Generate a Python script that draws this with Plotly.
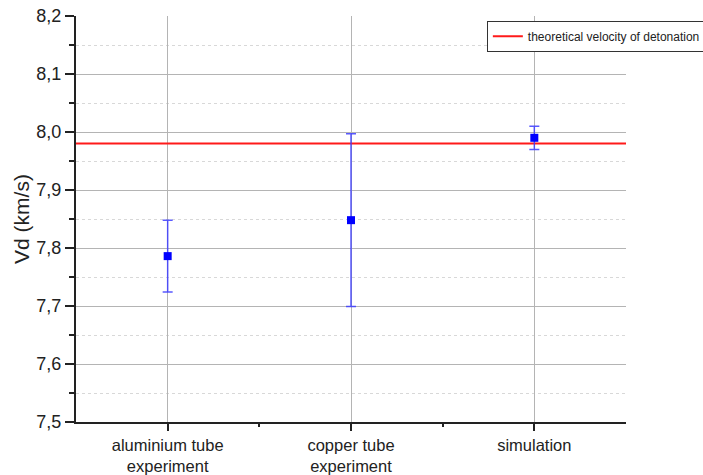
import plotly.graph_objects as go

categories = ["aluminium tube<br>experiment", "copper tube<br>experiment", "simulation"]
positions = [1, 2, 3]
vd_values = [7.786, 7.848, 7.990]
vd_errors = [0.062, 0.149, 0.020]
theoretical_vd = 7.98
x_range = [0.5, 3.5]
x_minor_ticks = [1.5, 2.5]
y_range = [7.5, 8.2]

fig = go.Figure()

fig.add_trace(go.Scatter(
    x=x_range, y=[theoretical_vd, theoretical_vd], mode="lines",
    line=dict(color="#ff1a1a", width=2),
    name="theoretical velocity of detonation", showlegend=True,
))

fig.add_trace(go.Scatter(
    x=positions, y=vd_values, mode="markers",
    marker=dict(symbol="square", size=8, color="#0000ff"),
    error_y=dict(type="data", array=vd_errors, visible=True,
                 color="rgba(60,60,255,0.85)", thickness=1.5, width=5),
    showlegend=False,
))

fig.update_layout(
    width=703, height=475,
    margin=dict(l=76, r=77, t=16, b=53, autoexpand=False),
    paper_bgcolor="white", plot_bgcolor="white",
    separators=",.",
    font=dict(family="Liberation Sans, Arial, sans-serif", color="#222"),
    legend=dict(x=0.747, y=0.988, xanchor="left", yanchor="top",
                bordercolor="#333", borderwidth=1, bgcolor="white",
                font=dict(size=12), itemwidth=30,
                tracegroupgap=0),
    xaxis=dict(
        range=x_range, tickmode="array", tickvals=positions, ticktext=categories,
        showline=True, linecolor="#222", linewidth=2,
        ticks="outside", ticklen=7, tickwidth=2, tickcolor="#222",
        showgrid=True, gridcolor="#b4b4b4", gridwidth=1,
        minor=dict(tickmode="array", tickvals=x_minor_ticks, ticks="outside",
                   ticklen=3, tickwidth=2, tickcolor="#222", showgrid=False),
        tickfont=dict(size=16.5), zeroline=False, automargin=False,
    ),
    yaxis=dict(
        range=y_range, dtick=0.1, tickformat=".1f",
        showline=True, linecolor="#222", linewidth=2,
        ticks="outside", ticklen=9, tickwidth=2, tickcolor="#222",
        showgrid=True, gridcolor="#b4b4b4", gridwidth=1,
        minor=dict(dtick=0.05, showgrid=True, gridcolor="#d8d8d8", griddash="dot",
                   ticks="outside", ticklen=5, tickwidth=2, tickcolor="#222"),
        tickfont=dict(size=18), zeroline=False, automargin=False,
        title=dict(text="Vd (km/s)", font=dict(size=21), standoff=1),
    ),
)

fig.write_html("out.html")
